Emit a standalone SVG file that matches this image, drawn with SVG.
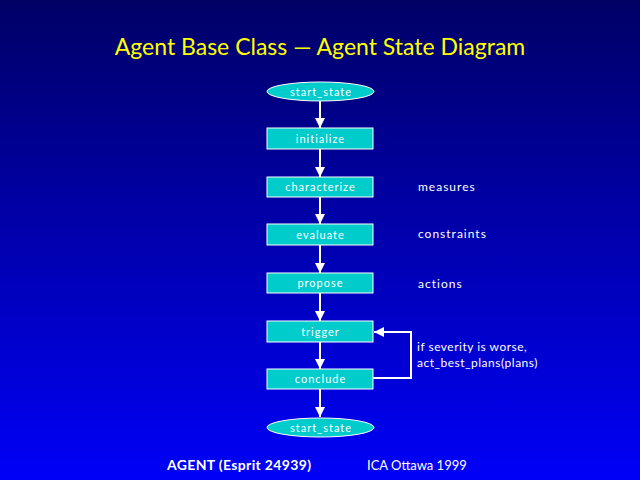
<svg xmlns="http://www.w3.org/2000/svg" width="640" height="480" viewBox="0 0 640 480">
<defs>
<linearGradient id="bg" x1="0" y1="0" x2="0" y2="1">
<stop offset="0" stop-color="#000066"/>
<stop offset="1" stop-color="#0000f8"/>
</linearGradient>
<marker id="ah" viewBox="0 0 10 10" refX="10" refY="5" markerWidth="10" markerHeight="10" markerUnits="userSpaceOnUse" orient="auto">
<path d="M0,0 L10,5 L0,10 Z" fill="#ffffff"/>
</marker>
<style>
.box{fill:#00cccc;stroke:#ffffff;stroke-width:1}
.lbl{font-family:"Lato","Liberation Sans",sans-serif;font-size:11px;fill:#ffffff;text-anchor:middle;letter-spacing:1px}
.note{font-family:"Lato","Liberation Sans",sans-serif;font-size:12px;fill:#ffffff;letter-spacing:1px}
.note2{font-family:"Lato","Liberation Sans",sans-serif;font-size:12px;fill:#ffffff;letter-spacing:0.5px}
.con{stroke:#ffffff;stroke-width:2;fill:none;marker-end:url(#ah)}
</style>
</defs>
<rect width="640" height="480" fill="url(#bg)"/>
<text x="320" y="55" font-family="Lato,'Liberation Sans',sans-serif" font-size="23" fill="#ffff00" text-anchor="middle">Agent Base Class — Agent State Diagram</text>
<g id="connectors">
<path class="con" d="M320,101 V128"/>
<path class="con" d="M320,149 V177"/>
<path class="con" d="M320,197 V224"/>
<path class="con" d="M320,245 V273"/>
<path class="con" d="M320,293 V321"/>
<path class="con" d="M320,342 V369"/>
<path class="con" d="M320,389 V417"/>
<path class="con" d="M373,378 H411 V332 H374"/>
</g>
<g id="start_state_top"><ellipse class="box" cx="320.5" cy="91.5" rx="53.5" ry="9.5"/><text class="lbl" x="321" y="95.5">start_state</text></g>
<g id="initialize"><rect class="box" x="267" y="128" width="106" height="21"/><text class="lbl" x="320.5" y="142.5">initialize</text></g>
<g id="characterize"><rect class="box" x="267" y="177" width="106" height="20"/><text class="lbl" x="320.5" y="191">characterize</text></g>
<g id="evaluate"><rect class="box" x="267" y="224" width="106" height="21"/><text class="lbl" x="320.5" y="238.5">evaluate</text></g>
<g id="propose"><rect class="box" x="267" y="273" width="106" height="20"/><text class="lbl" x="320.5" y="287">propose</text></g>
<g id="trigger"><rect class="box" x="267" y="321" width="106" height="21"/><text class="lbl" x="320.5" y="335.5">trigger</text></g>
<g id="conclude"><rect class="box" x="267" y="369" width="106" height="20"/><text class="lbl" x="320.5" y="383">conclude</text></g>
<g id="start_state_bottom"><ellipse class="box" cx="320.5" cy="427.5" rx="53.5" ry="9.5"/><text class="lbl" x="321" y="431.5">start_state</text></g>
<text class="note" x="418" y="191">measures</text>
<text class="note" x="418" y="238">constraints</text>
<text class="note" x="418" y="288">actions</text>
<text class="note2" x="417" y="351">if severity is worse,</text>
<text class="note2" x="417" y="367">act_best_plans(plans)</text>
<text x="167" y="470" font-family="Lato,'Liberation Sans',sans-serif" font-size="14" font-weight="bold" fill="#ffffff" textLength="144" lengthAdjust="spacing">AGENT (Esprit 24939)</text>
<text x="367" y="470" font-family="Lato,'Liberation Sans',sans-serif" font-size="13" fill="#ffffff">ICA Ottawa 1999</text>
</svg>
